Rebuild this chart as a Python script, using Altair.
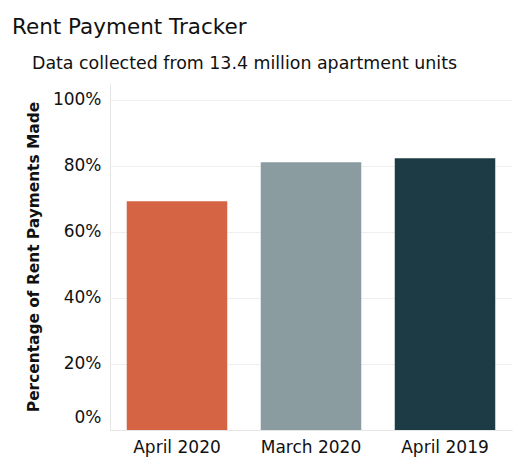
import altair as alt
import pandas as pd

periods = ["April 2020", "March 2020", "April 2019"]
share_paid = [0.692, 0.810, 0.822]
bar_colors = ["#D46443", "#8B9CA0", "#1C3B44"]
y_ticks = [0, 0.2, 0.4, 0.6, 0.8, 1.0]

title_text = "Rent Payment Tracker"
subtitle_text = ["Data collected from 13.4 million apartment units"]
y_title = "Percentage of Rent Payments Made"

df = pd.DataFrame({"Period": periods, "Share": share_paid})
sub_df = pd.DataFrame({"note": subtitle_text})

FONT = "DejaVu Sans"

bars = alt.Chart(df).mark_bar().encode(
    x=alt.X(
        "Period:N", sort=periods, title=None,
        scale=alt.Scale(paddingInner=0.25, paddingOuter=0.125),
        axis=alt.Axis(labelAngle=0, ticks=False, labelPadding=9, labelFontSize=17,
                      labelColor="#111111", labelFont=FONT,
                      domainColor="#e6e6e6", domainWidth=1),
    ),
    y=alt.Y(
        "Share:Q", title=y_title,
        scale=alt.Scale(domain=[0, 1.05], nice=False, zero=True),
        axis=alt.Axis(values=y_ticks, format=".0%", ticks=False, labelPadding=9,
                      labelFontSize=17, labelColor="#111111", labelFont=FONT,
                      labelFlush=True, labelFlushOffset=-4,
                      titleFont=FONT, titleFontSize=15.4, titleFontWeight="bold",
                      titleColor="#111111", titlePadding=11,
                      gridColor="#efefef", domainColor="#e6e6e6"),
    ),
    color=alt.Color("Period:N", scale=alt.Scale(domain=periods, range=bar_colors), legend=None),
)

subtitle = alt.Chart(sub_df).mark_text(
    align="left", baseline="alphabetic", font=FONT, fontSize=17.4, color="#111111"
).encode(
    text="note:N",
    x=alt.value(-78),
    y=alt.value(-14),
)

chart = alt.layer(bars, subtitle).properties(
    width=402,
    height=347,
    title=alt.TitleParams(
        text=title_text, anchor="start", frame="group", dx=-98, baseline="alphabetic",
        font=FONT, fontSize=21.5, fontWeight="normal", color="#111111", offset=0,
    ),
    padding={"left": 102, "top": 75, "right": 10, "bottom": 28},
    autosize="none",
).configure_view(stroke=None)

chart.save("out.html", embed_options={"renderer": "svg", "actions": False})
